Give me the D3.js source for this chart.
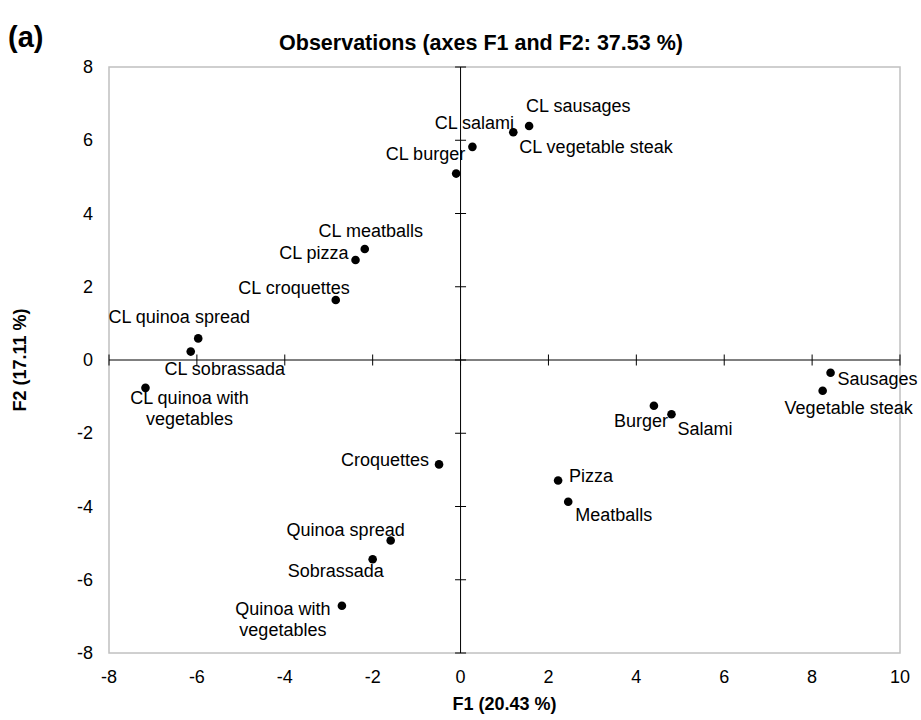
<!DOCTYPE html>
<html>
<head>
<meta charset="utf-8">
<script src="https://cdn.jsdelivr.net/npm/d3@7"></script>
<style>
  html, body { margin: 0; padding: 0; background: #fff; }
  text { font-family: "Liberation Sans", Arial, sans-serif; fill: #000; }
</style>
</head>
<body>
<svg id="chart" width="921" height="720"></svg>
<script>
// Observation names (two-line names use "\n")
const names = [
  "CL sausages", "CL vegetable steak", "CL salami", "CL burger",
  "CL meatballs", "CL pizza", "CL croquettes",
  "CL quinoa spread", "CL sobrassada", "CL quinoa with\nvegetables",
  "Sausages", "Vegetable steak", "Burger", "Salami",
  "Croquettes", "Pizza", "Meatballs",
  "Quinoa spread", "Sobrassada", "Quinoa with\nvegetables"
];
// Factor scores
const f1 = [
  1.56, 1.20, 0.27, -0.10,
  -2.18, -2.39, -2.84,
  -5.97, -6.14, -7.17,
  8.42, 8.24, 4.40, 4.80,
  -0.49, 2.22, 2.45,
  -1.59, -2.00, -2.70
];
const f2 = [
  6.39, 6.22, 5.82, 5.09,
  3.03, 2.73, 1.64,
  0.59, 0.23, -0.76,
  -0.35, -0.84, -1.25, -1.48,
  -2.85, -3.29, -3.87,
  -4.93, -5.44, -6.71
];
// Axis ticks
const xTicks = [-8, -6, -4, -2, 0, 2, 4, 6, 8, 10];
const yTicks = [-8, -6, -4, -2, 0, 2, 4, 6, 8];

// Label placement next to each point: [anchor, dx, dy]
const labelPlacement = [
  ["start", -3, -14], ["start", 6, 21], ["middle", 2, -18], ["end", 9, -14],
  ["middle", 6, -12], ["end", -7, -1], ["end", 14, -6],
  ["middle", -19, -15], ["middle", 34, 23], ["middle", 44, 16],
  ["start", 7, 12], ["middle", 26, 23], ["end", 14, 21], ["start", 6, 21],
  ["end", -10, 2], ["start", 11, 2], ["start", 7, 19],
  ["end", 14, -5], ["middle", -37, 18], ["middle", -59, 9]
];

const svg = d3.select("#chart");
const plotLeft = 109, plotRight = 900, plotTop = 67, plotBottom = 653;

const x = d3.scaleLinear().domain([-8, 10]).range([plotLeft, plotRight]);
const y = d3.scaleLinear().domain([-8, 8]).range([plotBottom, plotTop]);

// Plot frame
svg.append("rect")
  .attr("x", plotLeft).attr("y", plotTop)
  .attr("width", plotRight - plotLeft).attr("height", plotBottom - plotTop)
  .attr("fill", "none").attr("stroke", "#c0c0c0").attr("stroke-width", 1.5);

// Tick labels along the frame
const fontSize = 18;
svg.append("g").selectAll("text").data(xTicks).join("text")
  .attr("x", d => x(d)).attr("y", plotBottom + 30)
  .attr("text-anchor", "middle").attr("font-size", fontSize)
  .text(d => d);
svg.append("g").selectAll("text").data(yTicks).join("text")
  .attr("x", plotLeft - 16).attr("y", d => y(d) + 6)
  .attr("text-anchor", "end").attr("font-size", fontSize)
  .text(d => d);

// Zero axes with crossing tick marks
const x0 = x(0), y0 = y(0);
const axes = svg.append("g").attr("stroke", "#000").attr("stroke-width", 1);
axes.append("line").attr("x1", plotLeft).attr("x2", plotRight).attr("y1", y0).attr("y2", y0);
axes.append("line").attr("x1", x0).attr("x2", x0).attr("y1", plotTop).attr("y2", plotBottom);
axes.selectAll(".yt").data(yTicks).join("line").attr("class", "yt")
  .attr("x1", x0 - 5.5).attr("x2", x0 + 5.5)
  .attr("y1", d => y(d)).attr("y2", d => y(d));
axes.selectAll(".xt").data(xTicks).join("line").attr("class", "xt")
  .attr("x1", d => x(d)).attr("x2", d => x(d))
  .attr("y1", y0 - 5.5).attr("y2", y0 + 5.5);

// Observations
const obs = names.map((n, i) => ({ name: n, f1: f1[i], f2: f2[i], place: labelPlacement[i] }));

svg.append("g").selectAll("circle").data(obs).join("circle")
  .attr("cx", d => x(d.f1)).attr("cy", d => y(d.f2))
  .attr("r", 4.3).attr("fill", "#000");

const labels = svg.append("g").selectAll("text").data(obs).join("text")
  .attr("font-size", fontSize)
  .attr("text-anchor", d => d.place[0])
  .attr("x", d => x(d.f1) + d.place[1])
  .attr("y", d => y(d.f2) + d.place[2]);
labels.each(function (d) {
  const lines = d.name.split("\n");
  const t = d3.select(this);
  lines.forEach((ln, k) => {
    t.append("tspan")
      .attr("x", x(d.f1) + d.place[1])
      .attr("dy", k === 0 ? 0 : 21)
      .text(ln);
  });
});

// Titles
svg.append("text")
  .attr("x", 8).attr("y", 47)
  .attr("font-size", 29).attr("font-weight", "bold")
  .text("(a)");
svg.append("text")
  .attr("x", 481).attr("y", 50)
  .attr("text-anchor", "middle")
  .attr("font-size", 21.5).attr("font-weight", "bold")
  .text("Observations (axes F1 and F2: 37.53 %)");
svg.append("text")
  .attr("x", (plotLeft + plotRight) / 2).attr("y", 710)
  .attr("text-anchor", "middle")
  .attr("font-size", 18).attr("font-weight", "bold")
  .text("F1 (20.43 %)");
svg.append("text")
  .attr("transform", `translate(26, ${(plotTop + plotBottom) / 2}) rotate(-90)`)
  .attr("text-anchor", "middle")
  .attr("font-size", 18).attr("font-weight", "bold")
  .text("F2 (17.11 %)");
</script>
</body>
</html>
